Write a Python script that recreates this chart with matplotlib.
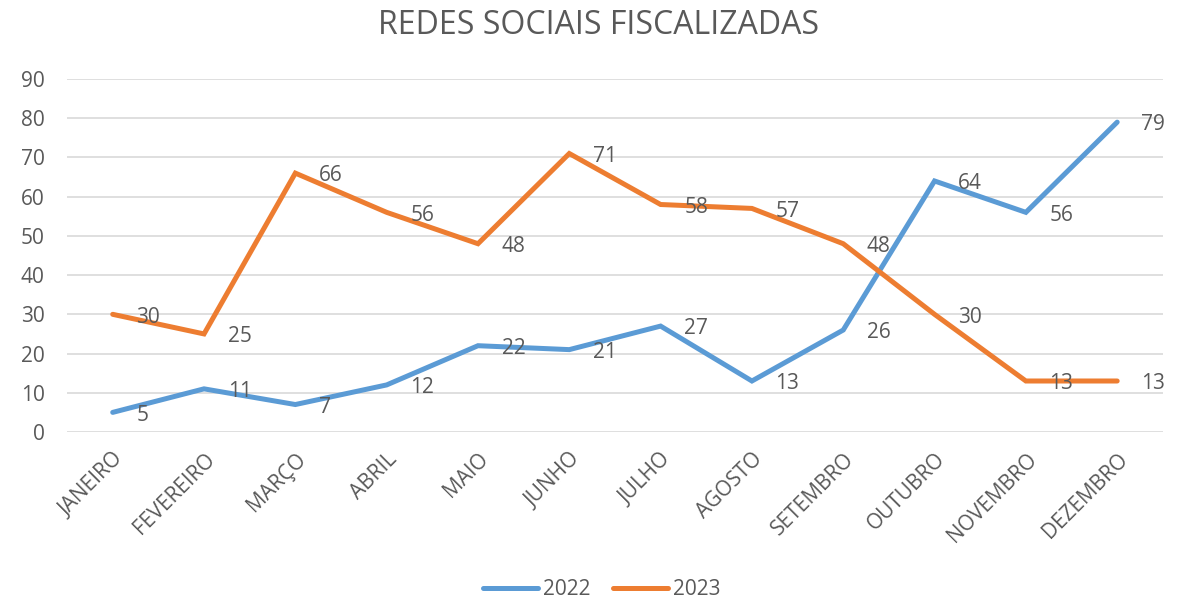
import numpy as np
import matplotlib
matplotlib.use('Agg')
import matplotlib.pyplot as plt

plt.rcParams['font.family'] = ['Open Sans', 'DejaVu Sans']

meses = ['JANEIRO', 'FEVEREIRO', 'MARÇO', 'ABRIL', 'MAIO', 'JUNHO',
         'JULHO', 'AGOSTO', 'SETEMBRO', 'OUTUBRO', 'NOVEMBRO', 'DEZEMBRO']
v2022 = [5, 11, 7, 12, 22, 21, 27, 13, 26, 64, 56, 79]
v2023 = [30, 25, 66, 56, 48, 71, 58, 57, 48, 30, 13, 13]
yticks = [0, 10, 20, 30, 40, 50, 60, 70, 80, 90]

cinza = '#595959'
azul = '#5B9BD5'
laranja = '#ED7D31'
fs = 15

fig = plt.figure(figsize=(11.89, 6.03), dpi=100)
ax = fig.add_axes([0.0564, 0.2836, 0.9216, 0.5854])

x = np.arange(len(meses))
ax.plot(x, v2022, color=azul, lw=3.6, label='2022', solid_capstyle='round',
        solid_joinstyle='miter', zorder=3)
ax.plot(x, v2023, color=laranja, lw=3.6, label='2023', solid_capstyle='round',
        solid_joinstyle='miter', zorder=3)

# rotulos de dados a direita de cada ponto
for serie in (v2022, v2023):
    for xi, v in zip(x, serie):
        ax.annotate(str(v), (xi, v), xytext=(17, -2), textcoords='offset points',
                    ha='left', va='center', fontsize=fs, color=cinza, zorder=4)

ax.set_xlim(-0.5, len(meses) - 0.5)
ax.set_ylim(0, 90)
ax.set_yticks(yticks)
ax.set_xticks(x)
ax.set_xticklabels(meses, rotation=45, ha='right', rotation_mode='anchor')
ax.tick_params(axis='both', length=0, labelsize=fs, labelcolor=cinza)
ax.tick_params(axis='x', pad=12)
ax.tick_params(axis='y', pad=16)
ax.grid(axis='y', color='#D9D9D9', lw=1.2)
ax.set_axisbelow(True)
for s in ax.spines.values():
    s.set_visible(False)

fig.text(0.503, 0.957, 'REDES SOCIAIS FISCALIZADAS', ha='center', va='center',
         fontsize=23, color=cinza)

fig.legend(loc='center', bbox_to_anchor=(0.506, 0.022), ncol=2, frameon=False,
           fontsize=fs, labelcolor=cinza, handlelength=2.65, handletextpad=0.25,
           columnspacing=1.05)

fig.savefig('out.png', dpi=100, facecolor='white')
